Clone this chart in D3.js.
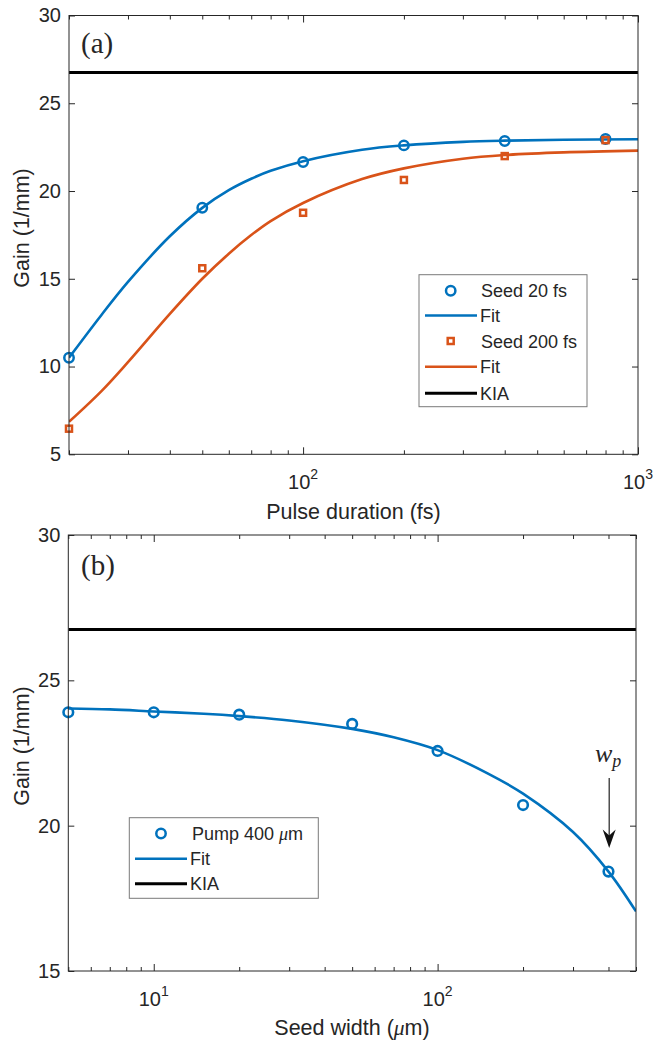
<!DOCTYPE html>
<html>
<head>
<meta charset="utf-8">
<script src="https://cdn.jsdelivr.net/npm/d3@7/dist/d3.min.js"></script>
<style>
  html, body { margin: 0; padding: 0; background: #fff; }
  svg { display: block; }
  text { font-family: "Liberation Sans", Arial, Helvetica, sans-serif; fill: #262626; }
</style>
</head>
<body>
<script>
// ---------- Data (panel a) ----------
const aPulse    = [20, 50, 100, 200, 400, 800];
const aSeed20   = [10.5, 19.05, 21.65, 22.6, 22.85, 22.96];
const aSeed200  = [6.46, 15.6, 18.76, 20.63, 21.99, 22.9];
const aFitX     = [20, 25, 30, 40, 50, 60, 70, 80, 100, 150, 200, 300, 400, 600, 1000];
const aFit20    = [10.5, 12.94, 14.82, 17.42, 19.04, 20.05, 20.7, 21.15, 21.7, 22.35, 22.6, 22.8, 22.87, 22.92, 22.95];
const aFit200   = [6.85, 8.6, 10.25, 13.0, 15.0, 16.43, 17.49, 18.29, 19.32, 20.68, 21.29, 21.84, 22.05, 22.2, 22.3];
const aKIA      = 26.75;
const aXDomain  = [20, 1000];
const aYDomain  = [5, 30];
const aXMajor   = [100, 1000];
const aXMinor   = [20, 30, 40, 50, 60, 70, 80, 90, 200, 300, 400, 500, 600, 700, 800, 900];
const aYTicks   = [5, 10, 15, 20, 25, 30];
const aLegend   = ["Seed 20 fs", "Fit", "Seed 200 fs", "Fit", "KIA"];

// ---------- Data (panel b) ----------
const bWidth    = [5, 10, 20, 50, 100, 200, 400];
const bPump     = [23.9, 23.9, 23.82, 23.5, 22.57, 20.71, 18.42];
const bFitX     = [5, 7, 10, 15, 20, 30, 50, 70, 100, 150, 200, 300, 400, 500];
const bFit      = [24.03, 24.0, 23.93, 23.85, 23.77, 23.62, 23.33, 23.04, 22.6, 21.8, 21.1, 19.78, 18.42, 17.05];
const bKIA      = 26.75;
const bXDomain  = [5, 500];
const bYDomain  = [15, 30];
const bXMajor   = [10, 100];
const bXMinor   = [5, 6, 7, 8, 9, 20, 30, 40, 50, 60, 70, 80, 90, 200, 300, 400, 500];
const bYTicks   = [15, 20, 25, 30];
const bLegend   = ["Pump 400 μm", "Fit", "KIA"];
const bArrowX   = 400;

const BLUE = "#0072BD", ORANGE = "#D95319", AX = "#262626";

const W = 655, H = 1042;
const svg = d3.select("body").append("svg").attr("width", W).attr("height", H);
svg.append("rect").attr("width", W).attr("height", H).attr("fill", "#fff");

function drawAxes(g, x, y, xMajor, xMinor, yTicks) {
  const [x0, x1] = x.range(), [y0, y1] = y.range();
  const style = sel => { sel.selectAll("line").attr("stroke", AX); sel.select(".domain").remove(); };
  g.append("g").attr("transform", `translate(0,${y0})`)
    .call(d3.axisBottom(x).tickValues(xMinor).tickSize(-4).tickFormat("")).call(style);
  g.append("g").attr("transform", `translate(0,${y0})`)
    .call(d3.axisBottom(x).tickValues(xMajor).tickSize(-7).tickFormat("")).call(style);
  g.append("g").attr("transform", `translate(0,${y1})`)
    .call(d3.axisTop(x).tickValues(xMinor).tickSize(-4).tickFormat("")).call(style);
  g.append("g").attr("transform", `translate(0,${y1})`)
    .call(d3.axisTop(x).tickValues(xMajor).tickSize(-7).tickFormat("")).call(style);
  const yl = g.append("g").attr("transform", `translate(${x0},0)`)
    .call(d3.axisLeft(y).tickValues(yTicks).tickSize(-6).tickPadding(8).tickFormat(d3.format("d")));
  yl.call(style);
  yl.selectAll("text").attr("font-size", 20).attr("fill", AX)
    .attr("font-family", '"Liberation Sans", Arial, sans-serif');
  g.append("g").attr("transform", `translate(${x1},0)`)
    .call(d3.axisRight(y).tickValues(yTicks).tickSize(-6).tickFormat("")).call(style);
  g.append("rect").attr("x", x0).attr("y", y1).attr("width", x1 - x0).attr("height", y0 - y1)
    .attr("fill", "none").attr("stroke", AX).attr("stroke-width", 1);
  const lab = g.append("g").selectAll("text").data(xMajor).join("text")
    .attr("x", d => x(d)).attr("y", y0 + 35).attr("text-anchor", "middle").attr("font-size", 20);
  lab.text("10");
  lab.append("tspan").attr("font-size", 14).attr("dy", -10).text(d => Math.round(Math.log10(d)));
}

function panel(opts) {
  const x = d3.scaleLog().domain(opts.xDomain).range(opts.xRange);
  const y = d3.scaleLinear().domain(opts.yDomain).range(opts.yRange);
  const g = svg.append("g");
  const clipId = "clip" + opts.id;
  svg.append("clipPath").attr("id", clipId).append("rect")
    .attr("x", opts.xRange[0]).attr("y", opts.yRange[1])
    .attr("width", opts.xRange[1] - opts.xRange[0]).attr("height", opts.yRange[0] - opts.yRange[1]);
  const plot = g.append("g").attr("clip-path", `url(#${clipId})`);
  return { x, y, g, plot };
}

const lineGen = (x, y) => d3.line().x(d => x(d[0])).y(d => y(d[1])).curve(d3.curveCatmullRom.alpha(0.5));

// ---------- Panel a ----------
{
  const { x, y, g, plot } = panel({ id: "a", xDomain: aXDomain, yDomain: aYDomain, xRange: [69, 638], yRange: [454.3, 15.5] });
  plot.append("line").attr("x1", x(aXDomain[0])).attr("x2", x(aXDomain[1]))
    .attr("y1", y(aKIA)).attr("y2", y(aKIA)).attr("stroke", "#000").attr("stroke-width", 3);
  plot.append("path").datum(d3.zip(aFitX, aFit20)).attr("d", lineGen(x, y))
    .attr("fill", "none").attr("stroke", BLUE).attr("stroke-width", 2.6);
  plot.append("path").datum(d3.zip(aFitX, aFit200)).attr("d", lineGen(x, y))
    .attr("fill", "none").attr("stroke", ORANGE).attr("stroke-width", 2.6);
  g.append("g").selectAll("circle").data(d3.zip(aPulse, aSeed20)).join("circle")
    .attr("cx", d => x(d[0])).attr("cy", d => y(d[1])).attr("r", 4.7)
    .attr("fill", "none").attr("stroke", BLUE).attr("stroke-width", 2.5);
  g.append("g").selectAll("rect").data(d3.zip(aPulse, aSeed200)).join("rect")
    .attr("x", d => x(d[0]) - 3).attr("y", d => y(d[1]) - 3).attr("width", 6).attr("height", 6)
    .attr("fill", "none").attr("stroke", ORANGE).attr("stroke-width", 2.5);
  drawAxes(g, x, y, aXMajor, aXMinor, aYTicks);
  g.append("text").attr("x", 353.5).attr("y", 519).attr("text-anchor", "middle")
    .attr("font-size", 21.5).text("Pulse duration (fs)");
  g.append("text").attr("transform", "translate(29,228) rotate(-90)").attr("text-anchor", "middle")
    .attr("font-size", 21.5).text("Gain (1/mm)");
  g.append("text").attr("x", 81).attr("y", 53).attr("font-size", 29)
    .style("font-family", '"Liberation Serif", "Times New Roman", serif').attr("fill", "#000").text("(a)");
  const L = g.append("g");
  L.append("rect").attr("x", 419).attr("y", 274.7).attr("width", 168).attr("height", 132)
    .attr("fill", "#fff").attr("stroke", "#7a7a7a").attr("stroke-width", 1);
  const rows = [290.7, 315.5, 341, 366.7, 393.3];
  const kinds = ["circle", "line", "square", "line", "line"];
  const cols = [BLUE, BLUE, ORANGE, ORANGE, "#000"];
  aLegend.forEach((t, i) => {
    const cy = rows[i];
    if (kinds[i] === "circle") {
      L.append("circle").attr("cx", 450.7).attr("cy", cy).attr("r", 4.7)
        .attr("fill", "none").attr("stroke", cols[i]).attr("stroke-width", 2.5);
    } else if (kinds[i] === "square") {
      L.append("rect").attr("x", 447.7).attr("y", cy - 3).attr("width", 6).attr("height", 6)
        .attr("fill", "none").attr("stroke", cols[i]).attr("stroke-width", 2.5);
    } else {
      L.append("line").attr("x1", 425).attr("x2", 477).attr("y1", cy).attr("y2", cy)
        .attr("stroke", cols[i]).attr("stroke-width", i === 4 ? 3 : 2.6);
    }
    L.append("text").attr("x", kinds[i] === "line" ? 480 : 481).attr("y", cy + 6.5)
      .attr("font-size", 18).text(t);
  });
}

// ---------- Panel b ----------
{
  const { x, y, g, plot } = panel({ id: "b", xDomain: bXDomain, yDomain: bYDomain, xRange: [68.3, 636], yRange: [971, 535] });
  plot.append("line").attr("x1", x(bXDomain[0])).attr("x2", x(bXDomain[1]))
    .attr("y1", y(bKIA)).attr("y2", y(bKIA)).attr("stroke", "#000").attr("stroke-width", 3);
  plot.append("path").datum(d3.zip(bFitX, bFit)).attr("d", lineGen(x, y))
    .attr("fill", "none").attr("stroke", BLUE).attr("stroke-width", 2.6);
  g.append("g").selectAll("circle").data(d3.zip(bWidth, bPump)).join("circle")
    .attr("cx", d => x(d[0])).attr("cy", d => y(d[1])).attr("r", 4.8)
    .attr("fill", "none").attr("stroke", BLUE).attr("stroke-width", 2.6);
  drawAxes(g, x, y, bXMajor, bXMinor, bYTicks);
  const xl = g.append("text").attr("x", 352).attr("y", 1035).attr("text-anchor", "middle")
    .attr("font-size", 21.5).text("Seed width (");
  xl.append("tspan").attr("font-style", "italic").style("font-family", '"Liberation Serif", serif').text("μ");
  xl.append("tspan").text("m)");
  g.append("text").attr("transform", "translate(29,746) rotate(-90)").attr("text-anchor", "middle")
    .attr("font-size", 21.5).text("Gain (1/mm)");
  g.append("text").attr("x", 81).attr("y", 575).attr("font-size", 29)
    .style("font-family", '"Liberation Serif", "Times New Roman", serif').attr("fill", "#000").text("(b)");
  const L = g.append("g");
  L.append("rect").attr("x", 129.3).attr("y", 817.7).attr("width", 189).attr("height", 80.6)
    .attr("fill", "#fff").attr("stroke", "#7a7a7a").attr("stroke-width", 1);
  const rows = [833.5, 858.7, 883.7];
  const cols = [BLUE, BLUE, "#000"];
  bLegend.forEach((t, i) => {
    const cy = rows[i];
    if (i === 0) {
      L.append("circle").attr("cx", 161).attr("cy", cy).attr("r", 4.7)
        .attr("fill", "none").attr("stroke", cols[i]).attr("stroke-width", 2.5);
      const tx = L.append("text").attr("x", 192).attr("y", cy + 6.5).attr("font-size", 18).text("Pump 400 ");
      tx.append("tspan").attr("font-style", "italic").style("font-family", '"Liberation Serif", serif').text("μ");
      tx.append("tspan").text("m");
    } else {
      L.append("line").attr("x1", 135).attr("x2", 187).attr("y1", cy).attr("y2", cy)
        .attr("stroke", cols[i]).attr("stroke-width", i === 2 ? 3 : 2.6);
      L.append("text").attr("x", 190).attr("y", cy + 6.5).attr("font-size", 18).text(t);
    }
  });
  const ax = x(bArrowX) + 0.7;
  g.append("line").attr("x1", ax).attr("x2", ax).attr("y1", 778).attr("y2", 836)
    .attr("stroke", "#222").attr("stroke-width", 1.2);
  g.append("path").attr("d", `M${ax},848 L${ax - 6.5},829.5 L${ax},835.5 L${ax + 6.5},829.5 Z`)
    .attr("fill", "#111");
  const wp = g.append("text").attr("x", ax - 1).attr("y", 762).attr("text-anchor", "middle")
    .style("font-family", '"Liberation Serif", "Times New Roman", serif').attr("font-style", "italic")
    .attr("font-size", 26).attr("fill", "#111").text("w");
  wp.append("tspan").attr("font-size", 18).attr("dy", 5).text("p");
}
</script>
</body>
</html>
